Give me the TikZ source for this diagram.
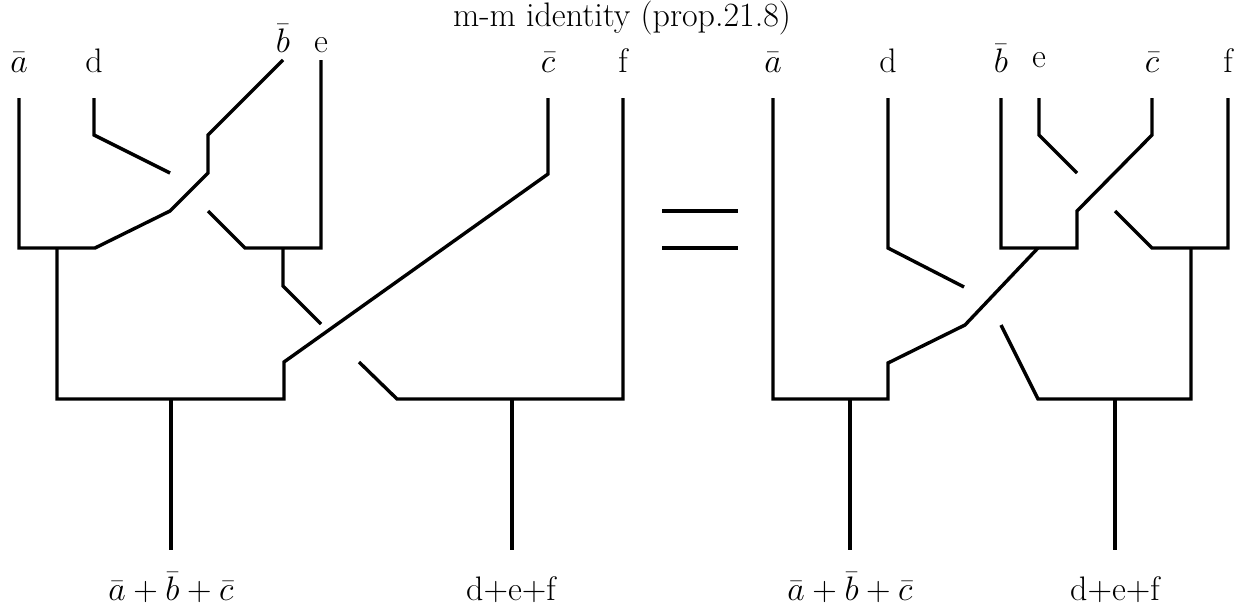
\documentclass[tikz,border=0pt]{standalone}
\DeclareFontShape{OML}{cmm}{m}{it}{<-6>cmmi5<6-7>cmmi6<7-8>cmmi7<8-9>cmmi8<9-10>cmmi9<10-12>cmmi10<12->cmmi12}{}
\DeclareFontShape{OMS}{cmsy}{m}{n}{<-6>cmsy5<6-7>cmsy6<7-8>cmsy7<8-9>cmsy8<9-10>cmsy9<10->cmsy10}{}
\DeclareFontShape{OT1}{cmr}{m}{n}{<-6>cmr5<6-7>cmr6<7-8>cmr7<8-9>cmr8<9-10>cmr9<10-12>cmr10<12-17>cmr12<17->cmr17}{}
\begin{document}
\begin{tikzpicture}[x=1pt,y=-1pt,
  strand/.style={line width=3.4pt,line cap=butt,line join=miter},
  lbl/.style={inner sep=0pt,font=\fontsize{34}{40}\selectfont}]
\useasboundingbox (0,0) rectangle (1251,613);
% title
\node[lbl,anchor=base] (title) at (622,26) {m-m identity (prop.21.8)};
% ---------- left diagram ----------
\node[lbl,anchor=base] (la) at (19,72) {$\bar a$};
\node[lbl,anchor=base] (ld) at (94,72) {d};
\node[lbl,anchor=base] (lb) at (283,52) {$\bar b$};
\node[lbl,anchor=base] (le) at (321,52) {e};
\node[lbl,anchor=base] (lc) at (548,72) {$\bar c$};
\node[lbl,anchor=base] (lf) at (623,72) {f};
\coordinate (La0) at (19,98);
\coordinate (La1) at (19,248);
\coordinate (Ld0) at (94,98);
\coordinate (Ld1) at (94,135);
\coordinate (Ld2) at (170,173);
\coordinate (Lb0) at (283,60);
\coordinate (Lb1) at (208,135);
\coordinate (Lb2) at (208,173);
\coordinate (Lb3) at (170,211);
\coordinate (Lb4) at (95,248);
\coordinate (Le0) at (321,60);
\coordinate (Le1) at (321,248);
\coordinate (Lg0) at (208,211);
\coordinate (Lg1) at (245,248);
\coordinate (Lab) at (57,248);
\coordinate (Lab1) at (57,399);
\coordinate (Lbe) at (283,248);
\coordinate (Lbe1) at (283,286);
\coordinate (Lbe2) at (321,324);
\coordinate (Lc0) at (548,98);
\coordinate (Lc1) at (548,174);
\coordinate (Lc2) at (284,362);
\coordinate (Lc3) at (284,399);
\coordinate (Lh0) at (359,362);
\coordinate (Lh1) at (397,399);
\coordinate (Lf0) at (623,98);
\coordinate (Lf1) at (623,399);
\coordinate (Lo1) at (171,399);
\coordinate (Lo1e) at (171,550);
\coordinate (Lo2) at (512,399);
\coordinate (Lo2e) at (512,550);
\draw[strand] (La0) -- (La1) -- (Lb4) -- (Lb3) -- (Lb2) -- (Lb1) -- (Lb0);
\draw[strand] (Ld0) -- (Ld1) -- (Ld2);
\draw[strand] (Le0) -- (Le1) -- (Lg1) -- (Lg0);
\draw[strand] (Lab) -- (Lab1) -- (Lc3) -- (Lc2) -- (Lc1) -- (Lc0);
\draw[strand] (Lbe) -- (Lbe1) -- (Lbe2);
\draw[strand] (Lh0) -- (Lh1) -- (Lf1) -- (Lf0);
\draw[strand] (Lo1) -- (Lo1e);
\draw[strand] (Lo2) -- (Lo2e);
\node[lbl,anchor=base] (lout1) at (171,600) {$\bar a+\bar b+\bar c$};
\node[lbl,anchor=base] (lout2) at (511,600) {d+e+f};
% ---------- equals ----------
\coordinate (E1a) at (662,211); \coordinate (E1b) at (738,211);
\coordinate (E2a) at (662,248); \coordinate (E2b) at (738,248);
\draw[strand] (E1a) -- (E1b);
\draw[strand] (E2a) -- (E2b);
% ---------- right diagram ----------
\node[lbl,anchor=base] (ra) at (773,72) {$\bar a$};
\node[lbl,anchor=base] (rd) at (888,72) {d};
\node[lbl,anchor=base] (rb) at (1001,72) {$\bar b$};
\node[lbl,anchor=base] (re) at (1039,67) {e};
\node[lbl,anchor=base] (rc) at (1152,72) {$\bar c$};
\node[lbl,anchor=base] (rf) at (1228,72) {f};
\coordinate (Ra0) at (773,98);
\coordinate (Ra1) at (773,399);
\coordinate (Rd0) at (888,98);
\coordinate (Rd1) at (888,248);
\coordinate (Rd2) at (964,287);
\coordinate (Rb0) at (1001,98);
\coordinate (Rb1) at (1001,248);
\coordinate (Rbe) at (1077,248);
\coordinate (Re0) at (1039,98);
\coordinate (Re1) at (1039,135);
\coordinate (Re2) at (1077,173);
\coordinate (Rc0) at (1152,98);
\coordinate (Rc1) at (1152,135);
\coordinate (Rc2) at (1077,211);
\coordinate (Rg0) at (1115,211);
\coordinate (Rg1) at (1152,248);
\coordinate (Rf0) at (1228,98);
\coordinate (Rf1) at (1228,248);
\coordinate (Rj0) at (1038,248);
\coordinate (Rj1) at (965,325);
\coordinate (Rj2) at (888,363);
\coordinate (Rj3) at (888,399);
\coordinate (Rcf) at (1191,248);
\coordinate (Rcf1) at (1191,399);
\coordinate (Rh0) at (1001,325);
\coordinate (Rh1) at (1038,399);
\coordinate (Ro1) at (850,399);
\coordinate (Ro1e) at (850,550);
\coordinate (Ro2) at (1115,399);
\coordinate (Ro2e) at (1115,550);
\draw[strand] (Ra0) -- (Ra1) -- (Rj3) -- (Rj2) -- (Rj1) -- (Rj0);
\draw[strand] (Rd0) -- (Rd1) -- (Rd2);
\draw[strand] (Rb0) -- (Rb1) -- (Rbe) -- (Rc2) -- (Rc1) -- (Rc0);
\draw[strand] (Re0) -- (Re1) -- (Re2);
\draw[strand] (Rg0) -- (Rg1) -- (Rf1) -- (Rf0);
\draw[strand] (Rcf) -- (Rcf1) -- (Rh1) -- (Rh0);
\draw[strand] (Ro1) -- (Ro1e);
\draw[strand] (Ro2) -- (Ro2e);
\node[lbl,anchor=base] (rout1) at (850,600) {$\bar a+\bar b+\bar c$};
\node[lbl,anchor=base] (rout2) at (1115,600) {d+e+f};
\end{tikzpicture}
\end{document}
